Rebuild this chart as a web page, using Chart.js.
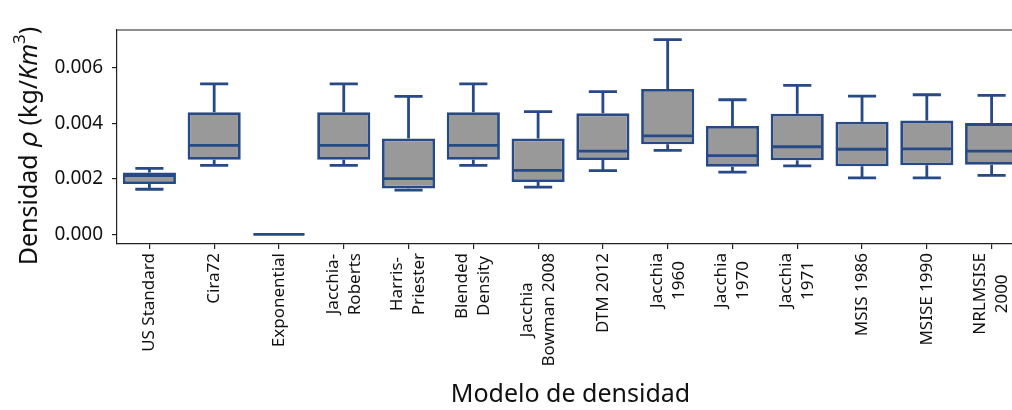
<!DOCTYPE html>
<html>
<head>
<meta charset="utf-8">
<script src="https://cdn.jsdelivr.net/npm/chart.js@4.4.0/dist/chart.umd.min.js"></script>
<style>
  body { margin: 0; background: #fff; overflow: hidden; }
  #wrap { width: 1024px; height: 410px; }
</style>
</head>
<body>
<div id="wrap"><canvas id="boxChart"></canvas></div>
<script>
// Density model names (multi-line tick labels)
const models = [
  ['US Standard'], ['Cira72'], ['Exponential'], ['Jacchia-', 'Roberts'],
  ['Harris-', 'Priester'], ['Blended', 'Density'], ['Jacchia', 'Bowman 2008'],
  ['DTM 2012'], ['Jacchia', '1960'], ['Jacchia', '1970'], ['Jacchia', '1971'],
  ['MSIS 1986'], ['MSISE 1990'], ['NRLMSISE', '2000']
];

// Box plot stats (kg/Km^3)
const whiskerLow  = [0.00162, 0.00248, 0, 0.00248, 0.00159, 0.00248, 0.00170, 0.00229, 0.00302, 0.00224, 0.00246, 0.00203, 0.00203, 0.00212];
const quart1      = [0.00181, 0.00268, 0, 0.00268, 0.00165, 0.00268, 0.00188, 0.00267, 0.00324, 0.00243, 0.00266, 0.00245, 0.00248, 0.00250];
const medians     = [0.00211, 0.00320, 0, 0.00320, 0.00200, 0.00320, 0.00230, 0.00299, 0.00354, 0.00283, 0.00315, 0.00306, 0.00307, 0.00299];
const quart3      = [0.00222, 0.00439, 0, 0.00439, 0.00345, 0.00439, 0.00345, 0.00435, 0.00523, 0.00390, 0.00434, 0.00405, 0.00409, 0.00400];
const whiskerHigh = [0.00237, 0.00541, 0, 0.00541, 0.00496, 0.00541, 0.00441, 0.00513, 0.00700, 0.00484, 0.00536, 0.00497, 0.00502, 0.00500];

const yTicks = [0, 0.002, 0.004, 0.006];

const lineColor = '#274a87';
const boxFill = '#999999';
const fontFam = '"Noto Sans", "DejaVu Sans", sans-serif';

// whiskers, caps and medians on top of the floating bars
const boxPlotLines = {
  id: 'boxPlotLines',
  afterDatasetsDraw(chart) {
    const ctx = chart.ctx;
    const x = chart.scales.x, y = chart.scales.y;
    const bars = chart.getDatasetMeta(0).data;
    ctx.save();
    ctx.strokeStyle = lineColor;
    ctx.lineWidth = 2.8;
    bars.forEach((bar, i) => {
      const cx = x.getPixelForValue(i);
      const half = bar.width / 2;
      const cap = half * 0.53;
      const yLo = y.getPixelForValue(whiskerLow[i]);
      const yQ1 = y.getPixelForValue(quart1[i]);
      const yMed = y.getPixelForValue(medians[i]);
      const yQ3 = y.getPixelForValue(quart3[i]);
      const yHi = y.getPixelForValue(whiskerHigh[i]);
      ctx.beginPath();
      ctx.moveTo(cx, yQ3); ctx.lineTo(cx, yHi);
      ctx.moveTo(cx - cap, yHi); ctx.lineTo(cx + cap, yHi);
      ctx.moveTo(cx, yQ1); ctx.lineTo(cx, yLo);
      ctx.moveTo(cx - cap, yLo); ctx.lineTo(cx + cap, yLo);
      ctx.moveTo(cx - half + 1, yMed); ctx.lineTo(cx + half - 1, yMed);
      ctx.stroke();
    });
    ctx.restore();
  }
};

// top spine, x tick labels (centred lines) and the y title with italic parts
const decorations = {
  id: 'decorations',
  afterDraw(chart) {
    const ctx = chart.ctx;
    const area = chart.chartArea;
    const x = chart.scales.x;
    ctx.save();
    ctx.strokeStyle = '#222';
    ctx.lineWidth = 1.2;
    ctx.beginPath();
    ctx.moveTo(area.left, area.top);
    ctx.lineTo(area.right, area.top);
    ctx.stroke();

    // rotated tick labels
    ctx.fillStyle = '#111';
    ctx.font = '17px ' + fontFam;
    ctx.textBaseline = 'middle';
    const lineH = 22;
    models.forEach((lines, i) => {
      const cx = x.getPixelForValue(i);
      const widths = lines.map(t => ctx.measureText(t).width);
      const blockW = Math.max(...widths);
      ctx.save();
      ctx.translate(cx, area.bottom + 9);
      ctx.rotate(-Math.PI / 2);
      lines.forEach((t, k) => {
        const off = (k - (lines.length - 1) / 2) * lineH;
        ctx.textAlign = 'center';
        ctx.fillText(t, -blockW / 2, off);
      });
      ctx.restore();
    });

    // y axis title
    const parts = [
      { t: 'Densidad ', f: '25px ' + fontFam, dy: 0 },
      { t: 'ρ', f: 'italic 25px "DejaVu Sans", sans-serif', dy: 0 },
      { t: ' (kg/', f: '25px ' + fontFam, dy: 0 },
      { t: 'Km', f: 'italic 25px ' + fontFam, dy: 0 },
      { t: '3', f: '17px ' + fontFam, dy: -10 },
      { t: ')', f: '25px ' + fontFam, dy: 0 }
    ];
    let total = 0;
    parts.forEach(p => { ctx.font = p.f; p.w = ctx.measureText(p.t).width; total += p.w; });
    ctx.translate(30, 146);
    ctx.rotate(-Math.PI / 2);
    ctx.textAlign = 'left';
    ctx.textBaseline = 'middle';
    let px = -total / 2;
    parts.forEach(p => {
      ctx.font = p.f;
      ctx.fillText(p.t, px, p.dy);
      px += p.w;
    });
    ctx.restore();
  }
};

new Chart(document.getElementById('boxChart'), {
  type: 'bar',
  data: {
    labels: models,
    datasets: [{
      data: quart1.map((q, i) => [q, quart3[i]]),
      backgroundColor: boxFill,
      borderColor: lineColor,
      borderWidth: 2.8,
      borderSkipped: false,
      barPercentage: 0.82,
      categoryPercentage: 1
    }]
  },
  options: {
    responsive: true,
    maintainAspectRatio: false,
    animation: false,
    layout: { padding: { top: 30, left: 0, right: 0, bottom: 0 } },
    plugins: { legend: { display: false }, tooltip: { enabled: false } },
    scales: {
      x: {
        offset: true,
        grid: { display: true, offset: false, drawOnChartArea: false, drawTicks: true, tickLength: 5, color: '#222', lineWidth: 1.2 },
        border: { display: true, color: '#222', width: 1.2 },
        ticks: { display: false },
        title: {
          display: true,
          text: 'Modelo de densidad',
          color: '#111',
          font: { family: fontFam, size: 25 },
          padding: { top: 0, bottom: 0 }
        },
        afterFit(scale) { scale.height = 166; }
      },
      y: {
        min: -0.000349,
        max: 0.007349,
        afterBuildTicks(scale) { scale.ticks = yTicks.map(v => ({ value: v })); },
        grid: { display: true, drawOnChartArea: false, drawTicks: true, tickLength: 5, color: '#222', lineWidth: 1.2 },
        border: { display: true, color: '#222', width: 1.2 },
        ticks: {
          color: '#111',
          padding: 9,
          font: { family: fontFam, size: 19 },
          callback: v => v.toFixed(3)
        },
        afterFit(scale) { scale.width = 117; }
      }
    }
  },
  plugins: [boxPlotLines, decorations]
});
</script>
</body>
</html>
